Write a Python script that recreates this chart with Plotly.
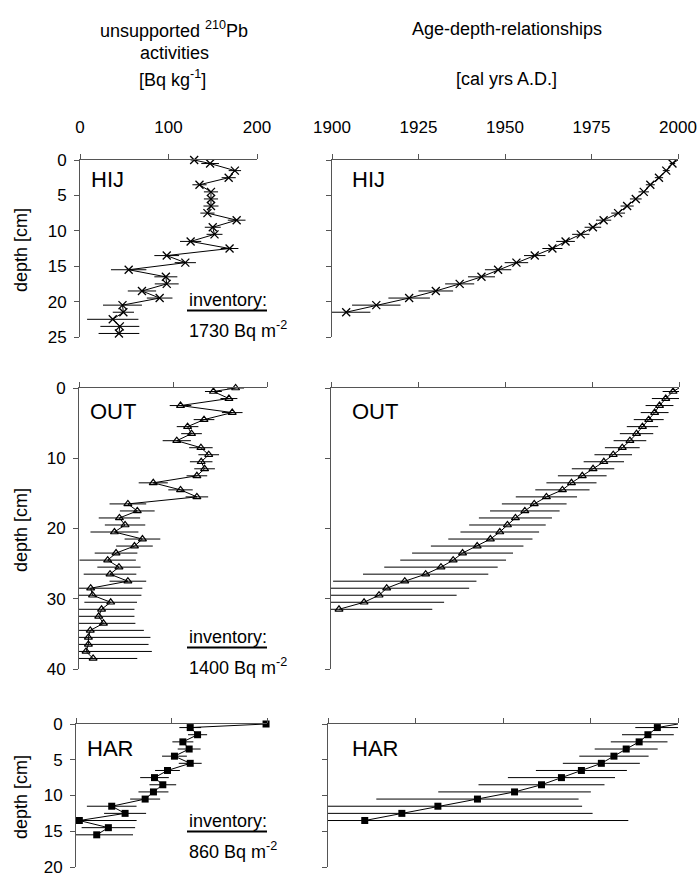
import plotly.graph_objects as go

# ---------------- data ----------------
# HIJ core: unsupported 210Pb activity [Bq/kg] and CRS ages [yr A.D.]
HIJ_PB_DEPTH = [0, 0.5, 1.5, 2.5, 3.5, 4.5, 5.5, 6.5, 7.5, 8.5, 9.5, 10.5, 11.5,
                12.5, 13.5, 14.5, 15.5, 16.5, 17.5, 18.5, 19.5, 20.5, 21.5, 22.5,
                23.5, 24.5]
HIJ_PB = [129, 147, 175, 168, 135, 148, 148, 148, 144, 177, 150, 152, 125, 169,
          98, 119, 55, 97, 98, 70, 90, 48, 49, 37, 45, 44]
HIJ_PB_ERR = [4, 10, 7, 8, 8, 8, 8, 8.5, 8, 10, 9, 9, 12, 10, 14, 12, 20, 13,
              13.5, 16, 14.5, 22, 12, 29, 22, 23]
HIJ_AGE_DEPTH = [0.5, 1.5, 2.5, 3.5, 4.5, 5.5, 6.5, 7.5, 8.5, 9.5, 10.5, 11.5,
                 12.5, 13.5, 14.5, 15.5, 16.5, 17.5, 18.5, 19.5, 20.5, 21.5]
HIJ_AGE = [1998.4, 1996.6, 1994.5, 1992.0, 1990.1, 1987.8, 1985.3, 1982.7,
           1978.5, 1975.4, 1971.9, 1967.5, 1963.7, 1958.6, 1953.3, 1948.0,
           1943.2, 1936.9, 1930.0, 1922.3, 1912.8, 1904.1]
HIJ_AGE_ERR = [0.8, 1.0, 1.2, 1.3, 1.5, 1.7, 1.9, 2.0, 2.2, 2.4, 2.5, 2.7, 2.9,
               3.1, 3.4, 3.8, 3.9, 4.2, 5.0, 6.0, 7.0, 7.0]
HIJ_INVENTORY = 1730

# OUT core
OUT_PB_DEPTH = [0, 0.5, 1.5, 2.5, 3.5, 4.5, 5.5, 6.5, 7.5, 8.5, 9.5, 10.5, 11.5,
                12.5, 13.5, 14.5, 15.5, 16.5, 17.5, 18.5, 19.5, 20.5, 21.5, 22.5,
                23.5, 24.5, 25.5, 26.5, 27.5, 28.5, 29.5, 30.5, 31.5, 32.5, 33.5,
                34.5, 35.5, 36.5, 37.5, 38.5]
OUT_PB = [166.6, 143, 159.5, 108, 163, 133, 115.5, 119.7, 104, 129.7, 138, 130,
          133.6, 125.4, 79, 108, 125.4, 52, 62, 43, 49, 37.7, 67.5, 59, 39.4,
          30.5, 42.5, 33, 52, 12.4, 14.4, 33.7, 24, 21, 26, 12, 10, 10, 7.5, 15]
OUT_PB_ERR = [9, 9, 9, 11.5, 11, 11, 11.5, 11, 15, 12.5, 11, 12, 11, 11, 15.5,
              13, 12, 19.5, 18.5, 22, 21.5, 25.5, 19, 19.5, 22.7, 30, 23, 28,
              19.5, 55, 52, 28, 35, 38, 34, 57, 66, 64, 70, 47]
OUT_AGE_DEPTH = [0.5, 1.5, 2.5, 3.5, 4.5, 5.5, 6.5, 7.5, 8.5, 9.5, 10.5, 11.5,
                 12.5, 13.5, 14.5, 15.5, 16.5, 17.5, 18.5, 19.5, 20.5, 21.5,
                 22.5, 23.5, 24.5, 25.5, 26.5, 27.5, 28.5, 29.5, 30.5, 31.5]
OUT_AGE = [1998.3, 1996.2, 1994.4, 1993.0, 1991.3, 1989.5, 1987.8, 1985.9,
           1983.7, 1981.1, 1978.4, 1975.3, 1972.2, 1969.1, 1966.5, 1961.9,
           1958.4, 1955.7, 1953.0, 1950.7, 1948.5, 1945.8, 1942.0, 1937.8,
           1935.1, 1931.6, 1927.2, 1921.2, 1916.0, 1913.8, 1909.5, 1902.3]
OUT_AGE_ERR = [3, 4, 4, 4, 4.3, 4.5, 4.8, 4.7, 5, 5.4, 5.8, 6.1, 7, 7.2, 7.8,
               8.8, 9.3, 10, 10.5, 11, 11.3, 12.1, 13.3, 14.5, 15.2, 16.3, 18,
               20.6, 23.7, 22.3, 23, 26.8]
OUT_INVENTORY = 1400

# HAR core
HAR_PB_DEPTH = [0, 0.5, 1.5, 2.5, 3.5, 4.5, 5.5, 6.5, 7.5, 8.5, 9.5, 10.5, 11.5,
                12.5, 13.5, 14.5, 15.5]
HAR_PB = [199, 119.6, 127.3, 111.9, 118.5, 103.1, 119.6, 95.8, 82.2, 90.9,
          81.1, 72.4, 37.4, 51.4, 3.5, 33.9, 21.7]
HAR_PB_ERR = [0, 11.4, 10, 11, 12, 13, 12, 13, 15, 14, 15.7, 15.7, 26, 22, 60,
              28, 38]
HAR_AGE_DEPTH = [0.5, 1.5, 2.5, 3.5, 4.5, 5.5, 6.5, 7.5, 8.5, 9.5, 10.5, 11.5,
                 12.5, 13.5]
HAR_AGE = [1994.1, 1991.4, 1988.9, 1985.2, 1981.7, 1978.1, 1972.4, 1966.7,
           1961.0, 1953.3, 1942.7, 1931.4, 1921.1, 1910.5]
HAR_AGE_ERR = [6.3, 7.4, 8.1, 9, 9.9, 11, 13, 15.3, 18, 21.8, 28.9, 41.2, 54.5,
               75.3]
HAR_INVENTORY = 860

# year of core retrieval (sediment surface)
SURFACE_YEAR = 2000

# ---------------- layout helpers ----------------
W, H = 700, 877
FONT = "Liberation Sans, Arial, sans-serif"
AXIS_COLOR = "#555555"


def fx(px):
    return px / W


def fy(py):
    return 1 - py / H


panels = [
    dict(name="HIJ", pb_d=HIJ_PB_DEPTH, pb=HIJ_PB, pb_e=HIJ_PB_ERR,
         age_d=HIJ_AGE_DEPTH, age=HIJ_AGE, age_e=HIJ_AGE_ERR,
         inv=HIJ_INVENTORY, top=160, bottom=337, dmax=25, dtick=5,
         left=(80, 257), right=(332, 678),
         marker=dict(symbol="x-thin", size=8, color="black",
                     line=dict(color="black", width=1.3)),
         label_y=179, inv_y=300, depth_label_y=250),
    dict(name="OUT", pb_d=OUT_PB_DEPTH, pb=OUT_PB, pb_e=OUT_PB_ERR,
         age_d=OUT_AGE_DEPTH, age=OUT_AGE, age_e=OUT_AGE_ERR,
         inv=OUT_INVENTORY, top=388, bottom=669, dmax=40, dtick=10,
         left=(79, 267), right=(331, 679),
         marker=dict(symbol="triangle-up-open", size=7, color="black",
                     line=dict(color="black", width=1.2)),
         label_y=411, inv_y=637, depth_label_y=530),
    dict(name="HAR", pb_d=HAR_PB_DEPTH, pb=HAR_PB, pb_e=HAR_PB_ERR,
         age_d=HAR_AGE_DEPTH, age=HAR_AGE, age_e=HAR_AGE_ERR,
         inv=HAR_INVENTORY, top=724, bottom=867, dmax=20, dtick=5,
         left=(76, 267), right=(328, 678),
         marker=dict(symbol="square", size=7, color="black",
                     line=dict(color="black", width=0)),
         label_y=748, inv_y=821, depth_label_y=797),
]

fig = go.Figure()
layout = {}
annotations = []
shapes = []

tick_font = dict(family=FONT, size=17, color="black")


def err(arr):
    return dict(type="data", array=arr, color="black", thickness=1, width=0,
                visible=True)


for i, p in enumerate(panels):
    depth_ticks = list(range(0, p["dmax"] + 1, p["dtick"]))
    for j, side in enumerate(("left", "right")):
        k = 2 * i + j + 1
        xname = "x" if k == 1 else f"x{k}"
        yname = "y" if k == 1 else f"y{k}"
        x0, x1 = p[side]
        if side == "left":
            xr = [0, 200]
            xt = 100
            line_x, line_y, line_e = p["pb"], p["pb_d"], p["pb_e"]
            mark_x, mark_y = p["pb"], p["pb_d"]
        else:
            xr = [1900, 2000]
            xt = 25
            line_x = [SURFACE_YEAR] + p["age"]
            line_y = [0] + p["age_d"]
            line_e = [0] + p["age_e"]
            mark_x, mark_y = p["age"], p["age_d"]

        layout["xaxis" if k == 1 else f"xaxis{k}"] = dict(
            domain=[fx(x0), fx(x1)], range=xr, dtick=xt, tick0=xr[0],
            side="top", anchor=yname, showline=True, linecolor=AXIS_COLOR,
            linewidth=1, ticks="outside", ticklen=5, tickcolor=AXIS_COLOR,
            showgrid=False, zeroline=False, showticklabels=(i == 0),
            tickfont=tick_font, ticklabelstandoff=14, automargin=False,
            ticklabeloverflow="allow", fixedrange=True)
        layout["yaxis" if k == 1 else f"yaxis{k}"] = dict(
            domain=[fy(p["bottom"]), fy(p["top"])],
            range=[p["dmax"] + 1e-6, 0],
            tickmode="array", tickvals=depth_ticks,
            ticktext=[str(t) for t in depth_ticks], anchor=xname,
            showline=True, linecolor=AXIS_COLOR, linewidth=1,
            ticks="outside", ticklen=5, tickcolor=AXIS_COLOR,
            showgrid=False, zeroline=False,
            showticklabels=(side == "left"), tickfont=tick_font,
            ticklabelstandoff=4, automargin=False,
            ticklabeloverflow="allow", fixedrange=True)

        # connecting line with horizontal error bars (clipped to the frame)
        fig.add_trace(go.Scatter(
            x=line_x, y=line_y, mode="lines", xaxis=xname, yaxis=yname,
            line=dict(color="black", width=1), error_x=err(line_e),
            cliponaxis=True, hoverinfo="skip"))
        # sample markers
        fig.add_trace(go.Scatter(
            x=mark_x, y=mark_y, mode="markers", xaxis=xname, yaxis=yname,
            marker=p["marker"], cliponaxis=False))

        # core name
        annotations.append(dict(
            text=p["name"], x=fx(x0 + 9 if side == "left" else 350),
            y=fy(p["label_y"]), xref="paper", yref="paper", xanchor="left",
            yanchor="middle", showarrow=False,
            font=dict(family=FONT, size=22, color="black")))

    # depth axis title
    annotations.append(dict(
        text="depth [cm]", x=fx(21), y=fy(p["depth_label_y"]), xref="paper",
        yref="paper", xanchor="center", yanchor="middle", textangle=-90,
        showarrow=False, font=dict(family=FONT, size=18, color="black")))

    # inventory note
    annotations.append(dict(
        text="inventory:", x=fx(187), y=fy(p["inv_y"]), xref="paper",
        yref="paper", xanchor="left", yanchor="middle", showarrow=False,
        font=dict(family=FONT, size=18, color="black")))
    annotations.append(dict(
        text=f"{p['inv']} Bq m<sup>-2</sup>", x=fx(187), y=fy(p["inv_y"] + 29),
        xref="paper", yref="paper", xanchor="left", yanchor="middle",
        showarrow=False, font=dict(family=FONT, size=18, color="black")))
    shapes.append(dict(
        type="line", xref="paper", yref="paper", x0=fx(187), x1=fx(267),
        y0=fy(p["inv_y"] + 10.5), y1=fy(p["inv_y"] + 10.5),
        line=dict(color="black", width=2)))

# column headings
heading_font = dict(family=FONT, size=18, color="black")
for text, x, y in [
    ("unsupported <sup>210</sup>Pb", 174, 29),
    ("activities", 174, 53),
    ("[Bq kg<sup>-1</sup>]", 172, 78),
    ("Age-depth-relationships", 507, 29),
    ("[cal yrs A.D.]", 506, 79),
]:
    annotations.append(dict(
        text=text, x=fx(x), y=fy(y), xref="paper", yref="paper",
        xanchor="center", yanchor="middle", showarrow=False,
        font=heading_font))

fig.update_layout(
    width=W, height=H,
    margin=dict(l=0, r=0, t=0, b=0, pad=0, autoexpand=False),
    paper_bgcolor="white", plot_bgcolor="white", showlegend=False,
    annotations=annotations, shapes=shapes, **layout)

fig.write_html("out.html")
